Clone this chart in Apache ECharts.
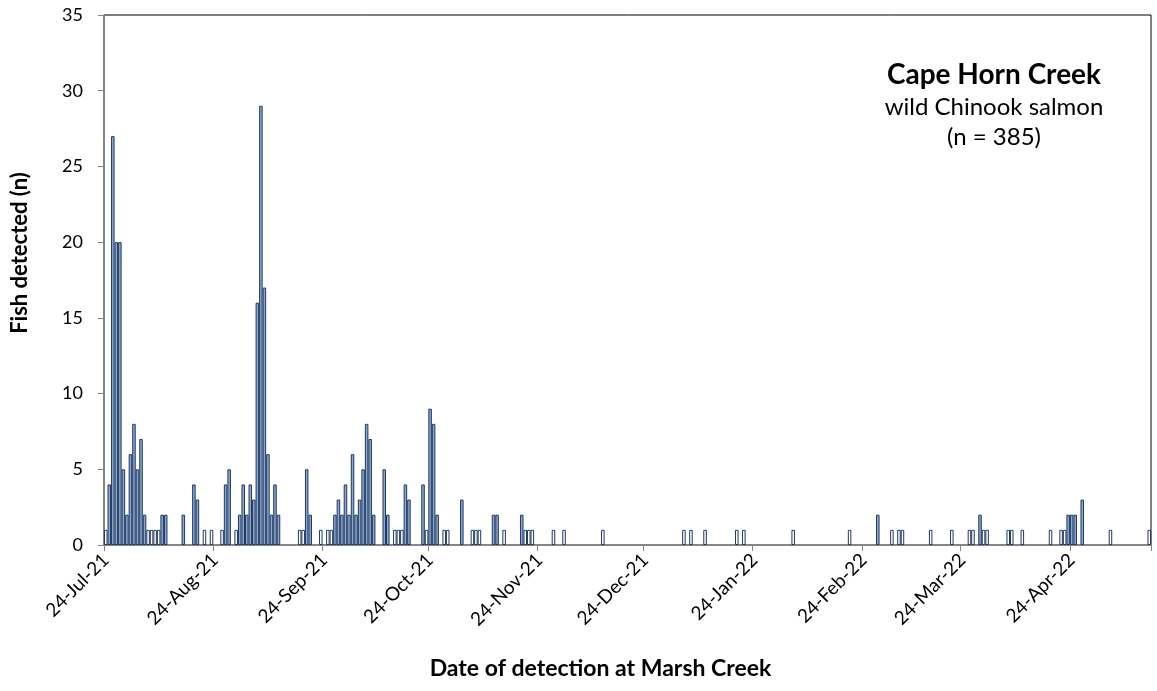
<!DOCTYPE html>
<html>
<head>
<meta charset="utf-8">
<script src="https://cdn.jsdelivr.net/npm/echarts@6/dist/echarts.min.js"></script>
<style>
  html, body { margin: 0; padding: 0; background: #ffffff; }
  #chart { width: 1157px; height: 691px; }
</style>
</head>
<body>
<div id="chart"></div>
<script>
// Daily detections of wild Chinook salmon from Cape Horn Creek at the Marsh Creek site
const FIRST_DAY = '2021-07-24';
const LAST_DAY = '2022-05-16';

const detectionDates = [
  '2021-07-24', '2021-07-25', '2021-07-26', '2021-07-27', '2021-07-28', '2021-07-29',
  '2021-07-30', '2021-07-31', '2021-08-01', '2021-08-02', '2021-08-03', '2021-08-04',
  '2021-08-05', '2021-08-06', '2021-08-07', '2021-08-08', '2021-08-09', '2021-08-10',
  '2021-08-15', '2021-08-18', '2021-08-19', '2021-08-21', '2021-08-23', '2021-08-26',
  '2021-08-27', '2021-08-28', '2021-08-30', '2021-08-31', '2021-09-01', '2021-09-02',
  '2021-09-03', '2021-09-04', '2021-09-05', '2021-09-06', '2021-09-07', '2021-09-08',
  '2021-09-09', '2021-09-10', '2021-09-11',
  '2021-09-17', '2021-09-18', '2021-09-19', '2021-09-20', '2021-09-23', '2021-09-25',
  '2021-09-26', '2021-09-27', '2021-09-28', '2021-09-29', '2021-09-30', '2021-10-01',
  '2021-10-02', '2021-10-03', '2021-10-04', '2021-10-05', '2021-10-06', '2021-10-07',
  '2021-10-08', '2021-10-11', '2021-10-12', '2021-10-14', '2021-10-15', '2021-10-16',
  '2021-10-17', '2021-10-18', '2021-10-22', '2021-10-23', '2021-10-24', '2021-10-25',
  '2021-10-26',
  '2021-10-28', '2021-10-29', '2021-11-02', '2021-11-05', '2021-11-06', '2021-11-07',
  '2021-11-11', '2021-11-12', '2021-11-14', '2021-11-19', '2021-11-20', '2021-11-21',
  '2021-11-22', '2021-11-28', '2021-12-01', '2021-12-12',
  '2022-01-04', '2022-01-06', '2022-01-10', '2022-01-19', '2022-01-21', '2022-02-04',
  '2022-02-20', '2022-02-28', '2022-03-04', '2022-03-06', '2022-03-07', '2022-03-15',
  '2022-03-21', '2022-03-26', '2022-03-27', '2022-03-29', '2022-03-30', '2022-03-31',
  '2022-04-06', '2022-04-07', '2022-04-10', '2022-04-18', '2022-04-21', '2022-04-22',
  '2022-04-23', '2022-04-24', '2022-04-25', '2022-04-27', '2022-05-05', '2022-05-16'
];

const fishCounts = [
  1, 4, 27, 20, 20, 5,
  2, 6, 8, 5, 7, 2,
  1, 1, 1, 1, 2, 2,
  2, 4, 3, 1, 1, 1,
  4, 5, 1, 2, 4, 2,
  4, 3, 16, 29, 17, 6,
  2, 4, 2,
  1, 1, 5, 2, 1, 1,
  1, 2, 3, 2, 4, 2,
  6, 2, 3, 5, 8, 7,
  2, 5, 2, 1, 1, 1,
  4, 3, 4, 1, 9, 8,
  2,
  1, 1, 3, 1, 1, 1,
  2, 2, 1, 2, 1, 1,
  1, 1, 1, 1,
  1, 1, 1, 1, 1, 1,
  1, 2, 1, 1, 1, 1,
  1, 1, 1, 2, 1, 1,
  1, 1, 1, 1, 1, 1,
  2, 2, 2, 3, 1, 1
];

const tickLabels = [
  '24-Jul-21', '24-Aug-21', '24-Sep-21', '24-Oct-21', '24-Nov-21',
  '24-Dec-21', '24-Jan-22', '24-Feb-22', '24-Mar-22', '24-Apr-22'
];

const chartTitle = 'Cape Horn Creek';
const chartSubtitle = 'wild Chinook salmon';
const sampleSize = '(n = 385)';

const MONTHS = ['Jan', 'Feb', 'Mar', 'Apr', 'May', 'Jun', 'Jul', 'Aug', 'Sep', 'Oct', 'Nov', 'Dec'];
const DAY_MS = 86400000;
const FONT = 'Lato, "Open Sans", sans-serif';

function formatDay(t) {
  const d = new Date(t);
  return d.getUTCDate() + '-' + MONTHS[d.getUTCMonth()] + '-' + String(d.getUTCFullYear()).slice(2);
}

// one category per calendar day, empty where nothing was detected
const dayTimes = [];
for (let t = Date.parse(FIRST_DAY); t <= Date.parse(LAST_DAY); t += DAY_MS) dayTimes.push(t);
const categories = dayTimes.map(formatDay);
const countByDay = new Map(detectionDates.map((s, i) => [Date.parse(s), fishCounts[i]]));
const dailyCounts = dayTimes.map(t => (countByDay.has(t) ? countByDay.get(t) : null));

const isTickDay = (idx, value) => tickLabels.indexOf(value) !== -1;

const chart = echarts.init(document.getElementById('chart'), null, { renderer: 'canvas' });

chart.setOption({
  animation: false,
  backgroundColor: '#ffffff',
  textStyle: { fontFamily: FONT },
  grid: {
    left: 104, right: 6, top: 15, bottom: 146,
    show: true, borderColor: '#000000', borderWidth: 1, backgroundColor: 'transparent'
  },
  xAxis: {
    type: 'category',
    data: categories,
    boundaryGap: true,
    axisLine: { show: true, lineStyle: { color: '#868686', width: 2 } },
    axisTick: { show: true, interval: isTickDay, length: 6, lineStyle: { color: '#868686', width: 1 } },
    axisLabel: {
      interval: isTickDay, rotate: 45, fontSize: 19, color: '#000000',
      fontFamily: FONT, margin: 12
    },
    splitLine: { show: false },
    name: 'Date of detection at Marsh Creek',
    nameLocation: 'middle',
    nameGap: 112,
    nameTextStyle: {
      fontSize: 23, fontWeight: 'bold', color: '#000000', fontFamily: FONT,
      padding: [0, 54, 0, 0]
    }
  },
  yAxis: {
    type: 'value',
    min: 0, max: 35, interval: 5,
    axisLine: { show: true, lineStyle: { color: '#868686', width: 1.5 } },
    axisTick: { show: true, length: 6, lineStyle: { color: '#868686', width: 1 } },
    axisLabel: { fontSize: 18, color: '#000000', margin: 21, fontFamily: FONT },
    splitLine: { show: false },
    name: 'Fish detected (n)',
    nameLocation: 'middle',
    nameGap: 73,
    nameTextStyle: {
      fontSize: 22, fontWeight: 'bold', color: '#000000', fontFamily: FONT,
      padding: [0, 0, 0, 54]
    }
  },
  series: [{
    type: 'bar',
    data: dailyCounts,
    barCategoryGap: '0%',
    barGap: '0%',
    itemStyle: {
      color: p => (p.value === 1 ? '#ffffff' : '#8EA8C9'),
      borderColor: '#1F3864',
      borderWidth: 1
    }
  }],
  graphic: [
    { type: 'text', x: 994, y: 75, style: { text: chartTitle, fill: '#000', font: 'bold 28px ' + FONT, textAlign: 'center', textVerticalAlign: 'middle' } },
    { type: 'text', x: 994, y: 107, style: { text: chartSubtitle, fill: '#000', font: '24px ' + FONT, textAlign: 'center', textVerticalAlign: 'middle' } },
    { type: 'text', x: 994, y: 137, style: { text: sampleSize, fill: '#000', font: '24px ' + FONT, textAlign: 'center', textVerticalAlign: 'middle' } }
  ]
});
</script>
</body>
</html>
